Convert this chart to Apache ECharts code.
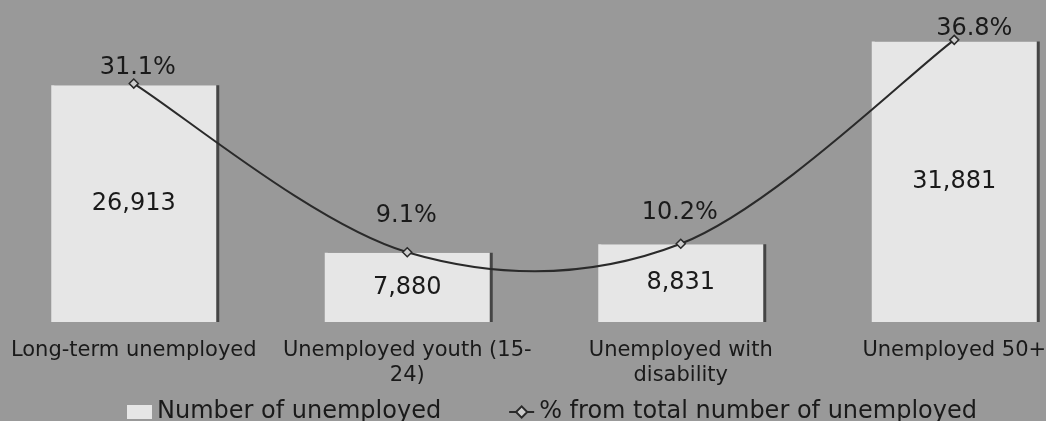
<!DOCTYPE html>
<html><head><meta charset="utf-8">
<script src="https://cdn.jsdelivr.net/npm/echarts@6/dist/echarts.min.js"></script>
<style>html,body{margin:0;padding:0;background:#999;overflow:hidden;width:1046px;height:421px;position:relative;}
#c{position:absolute;left:-3px;top:0;width:1100px;height:421px;}</style>
</head><body><div id="c"></div>
<script>
var categories = ["Long-term unemployed", "Unemployed youth (15-\n24)", "Unemployed with\ndisability", "Unemployed 50+"];
var unemployedCounts = [26913, 7880, 8831, 31881];
var shareOfTotal = [31.1, 9.1, 10.2, 36.8];
var seriesNames = ["Number of unemployed", "% from total number of unemployed"];
// per-point label offsets (style only)
var pctLabelOffsets = [[4, 5], [-1, -15], [-1, -10], [20, 10]];

var chart = echarts.init(document.getElementById('c'));
var FONT = 'DejaVu Sans';
var LINE_COLOR = '#2a2a2a';

function smoothPath(pts) {
  // Catmull-Rom style cubic Bezier through the points
  var d = 'M' + pts[0][0] + ' ' + pts[0][1];
  for (var i = 0; i < pts.length - 1; i++) {
    var p0 = pts[i - 1] || pts[i], p1 = pts[i], p2 = pts[i + 1], p3 = pts[i + 2] || pts[i + 1];
    var c1x = p1[0] + (p2[0] - p0[0]) / 6, c1y = p1[1] + (p2[1] - p0[1]) / 6;
    var c2x = p2[0] - (p3[0] - p1[0]) / 6, c2y = p2[1] - (p3[1] - p1[1]) / 6;
    d += ' C' + c1x + ' ' + c1y + ' ' + c2x + ' ' + c2y + ' ' + p2[0] + ' ' + p2[1];
  }
  return d;
}

chart.setOption({
  backgroundColor: '#999999',
  animation: false,
  grid: { left: 0, top: 0, width: 1094, height: 322 },
  legend: {
    left: 125, top: 395, itemGap: 67, itemWidth: 25, itemHeight: 14,
    textStyle: { fontFamily: FONT, fontSize: 24, color: '#1a1a1a' },
    data: [
      { name: seriesNames[0], icon: 'rect' },
      { name: seriesNames[1], lineStyle: { width: 2, color: LINE_COLOR, opacity: 1 } }
    ]
  },
  xAxis: {
    type: 'category', data: categories,
    axisLine: { show: false },
    axisTick: { show: false },
    axisLabel: { interval: 0, fontFamily: FONT, fontSize: 21, color: '#1a1a1a', margin: 16, lineHeight: 25 }
  },
  yAxis: [
    { type: 'value', min: 0, max: 36600, show: false, splitLine: { show: false } },
    { type: 'value', min: 0, max: 42, show: false, splitLine: { show: false } }
  ],
  series: [
    {
      name: seriesNames[0], type: 'bar', data: unemployedCounts, barWidth: 165,
      itemStyle: { color: '#e6e6e6', shadowColor: 'rgba(0,0,0,0.55)', shadowOffsetX: 3, shadowOffsetY: 0, shadowBlur: 0 },
      label: { show: true, position: 'inside', fontFamily: FONT, fontSize: 24, color: '#1a1a1a',
               formatter: function (p) { return p.value.toLocaleString('en-US'); } }
    },
    {
      name: 'curve', type: 'custom', yAxisIndex: 1, silent: true, z: 3,
      data: shareOfTotal.map(function (v, i) { return [i, v]; }),
      encode: { x: 0, y: 1 },
      renderItem: function (params, api) {
        if (params.dataIndex !== 0) return null;
        var pts = shareOfTotal.map(function (v, j) { return api.coord([j, v]); });
        return {
          type: 'path',
          shape: { pathData: smoothPath(pts) },
          style: { fill: null, stroke: LINE_COLOR, lineWidth: 2 }
        };
      }
    },
    {
      name: seriesNames[1], type: 'line', yAxisIndex: 1, z: 4,
      data: shareOfTotal.map(function (v, i) {
        return { value: v, label: { offset: pctLabelOffsets[i] } };
      }),
      symbol: 'diamond', symbolSize: 9,
      lineStyle: { color: LINE_COLOR, width: 2, opacity: 0 },
      itemStyle: { color: '#cccccc', borderColor: LINE_COLOR, borderWidth: 1.5 },
      label: { show: true, position: 'top', distance: 4, fontFamily: FONT, fontSize: 24, color: '#1a1a1a',
               formatter: function (p) { return p.value.toFixed(1) + '%'; } }
    }
  ]
});
</script></body></html>
